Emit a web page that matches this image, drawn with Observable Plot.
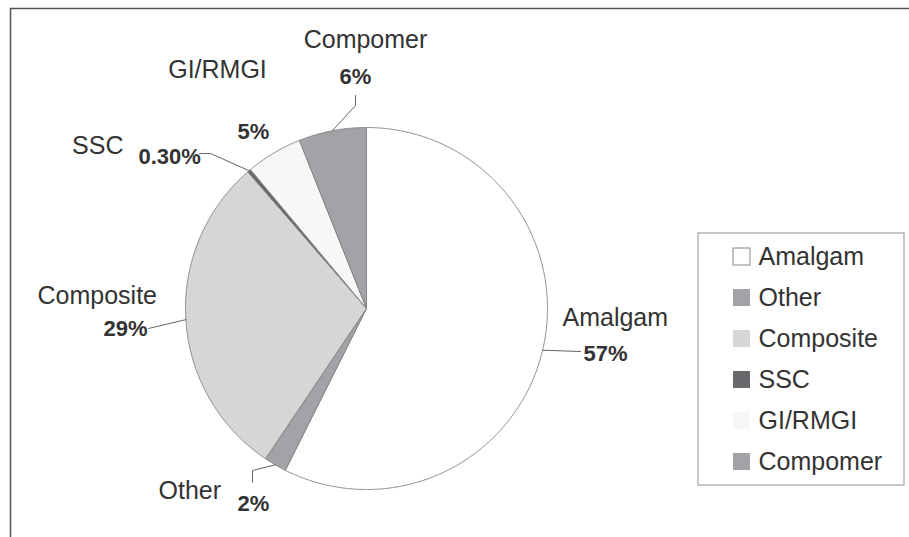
<!DOCTYPE html>
<html>
<head>
<meta charset="utf-8">
<script src="https://cdn.jsdelivr.net/npm/d3@7"></script>
<script src="https://cdn.jsdelivr.net/npm/@observablehq/plot@0.6"></script>
<style>
  html, body { margin: 0; padding: 0; background: #fff; }
  #chart { width: 909px; height: 537px; overflow: hidden; }
</style>
</head>
<body>
<div id="chart"></div>
<script>
// ---- data ----
const categories = ["Amalgam", "Other", "Composite", "SSC", "GI/RMGI", "Compomer"];
const shares = [57, 2, 29, 0.3, 5, 6];
const shareLabels = ["57%", "2%", "29%", "0.30%", "5%", "6%"];

// ---- style ----
const palette = ["#ffffff", "#a3a3a7", "#d6d6d8", "#68686c", "#f7f7f7", "#a3a3a7"];
const FONT = "'Liberation Sans', Arial, Helvetica, sans-serif";
const textColor = "#333333";

// ---- layout (pixel space) ----
const W = 909, H = 537;
const pie = { cx: 366, cy: 308, r: 181 };
const labelLayout = {
  "Amalgam":   { name: [562, 325, "start"],  pct: [583, 360, "start"],  leader: [[580, 351]] },
  "Other":     { name: [158, 498, "start"],  pct: [237, 510, "start"],  leader: [[252, 470], [252, 482]] },
  "Composite": { name: [37, 303, "start"],   pct: [147, 335, "end"],    leader: [[148, 328]] },
  "SSC":       { name: [123, 153, "end"],    pct: [138, 163, "start"],  leader: [[210, 153], [199, 153]] },
  "GI/RMGI":   { name: [217, 77, "middle"],  pct: [253, 138, "middle"], leader: [] },
  "Compomer":  { name: [365, 47, "middle"],  pct: [355, 83, "middle"],  leader: [[355, 105], [355, 95]] }
};
const legendLayout = { x1: 698, x2: 904, y1: 233, y2: 485, swatchX1: 733, swatchX2: 750, swatch: 17, textX: 758, row0: 256.5, rowStep: 41 };

// ---- derived ----
const data = categories.map((name, i) => ({ name, share: shares[i], label: shareLabels[i] }));
const arcs = d3.pie().sort(null).value(d => d.share)(data);

const slicePts = [];
const leaderPts = [];
arcs.forEach(a => {
  const name = a.data.name;
  const n = Math.max(2, Math.ceil((a.endAngle - a.startAngle) / 0.005));
  slicePts.push({ name, x: pie.cx, y: pie.cy });
  for (let i = 0; i <= n; i++) {
    const ang = a.startAngle + (a.endAngle - a.startAngle) * i / n;
    slicePts.push({ name, x: pie.cx + pie.r * Math.sin(ang), y: pie.cy - pie.r * Math.cos(ang) });
  }
  slicePts.push({ name, x: pie.cx, y: pie.cy });

  const L = labelLayout[name];
  if (L.leader.length) {
    const mid = (a.startAngle + a.endAngle) / 2;
    leaderPts.push({ name, x: pie.cx + pie.r * Math.sin(mid), y: pie.cy - pie.r * Math.cos(mid) });
    L.leader.forEach(p => leaderPts.push({ name, x: p[0], y: p[1] }));
  }
});

const nameLabels = data.map(d => ({ text: d.name, x: labelLayout[d.name].name[0], y: labelLayout[d.name].name[1], anchor: labelLayout[d.name].name[2] }));
const pctLabels = data.map(d => ({ text: d.label, x: labelLayout[d.name].pct[0], y: labelLayout[d.name].pct[1], anchor: labelLayout[d.name].pct[2] }));

const legendRows = categories.map((name, i) => {
  const yc = legendLayout.row0 + i * legendLayout.rowStep;
  return { name, yc, y1: yc - legendLayout.swatch / 2, y2: yc + legendLayout.swatch / 2 };
});

function textMarks(rows, opts) {
  return ["start", "middle", "end"].map(anchor =>
    Plot.text(rows.filter(r => r.anchor === anchor), {
      x: "x", y: "y", text: "text", textAnchor: anchor, lineAnchor: "bottom",
      fill: textColor, fontFamily: FONT, ...opts
    })
  );
}

const chart = Plot.plot({
  width: W,
  height: H,
  margin: 0,
  style: { fontFamily: FONT, background: "#fff" },
  x: { domain: [0, W], range: [0, W], axis: null },
  y: { domain: [0, H], range: [0, H], axis: null },
  color: { domain: categories, range: palette },
  marks: [
    Plot.frame({ insetLeft: 10, insetTop: 8, insetRight: -10, insetBottom: -10, stroke: "#555", strokeWidth: 1.5 }),
    Plot.line(slicePts, { x: "x", y: "y", z: "name", fill: "name", stroke: "#858585", strokeWidth: 1, curve: "linear", strokeLinejoin: "round" }),
    Plot.line(leaderPts, { x: "x", y: "y", z: "name", stroke: "#666", strokeWidth: 1, curve: "linear" }),
    ...textMarks(nameLabels, { fontSize: 25 }),
    ...textMarks(pctLabels, { fontSize: 22, fontWeight: "bold" }),
    // legend
    Plot.rect([legendLayout], { x1: "x1", x2: "x2", y1: "y1", y2: "y2", fill: "none", stroke: "#b5b5b5", strokeWidth: 1.5 }),
    Plot.rect(legendRows, { x1: () => legendLayout.swatchX1, x2: () => legendLayout.swatchX2, y1: "y1", y2: "y2", fill: "name" }),
    Plot.rect(legendRows.filter(d => d.name === "Amalgam"), { x1: () => legendLayout.swatchX1, x2: () => legendLayout.swatchX2, y1: "y1", y2: "y2", fill: "none", stroke: "#888", strokeWidth: 1 }),
    Plot.text(legendRows, { x: () => legendLayout.textX, y: "yc", text: "name", textAnchor: "start", lineAnchor: "middle", fontSize: 25, fill: textColor, fontFamily: FONT })
  ]
});

document.getElementById("chart").appendChild(chart);
</script>
</body>
</html>
